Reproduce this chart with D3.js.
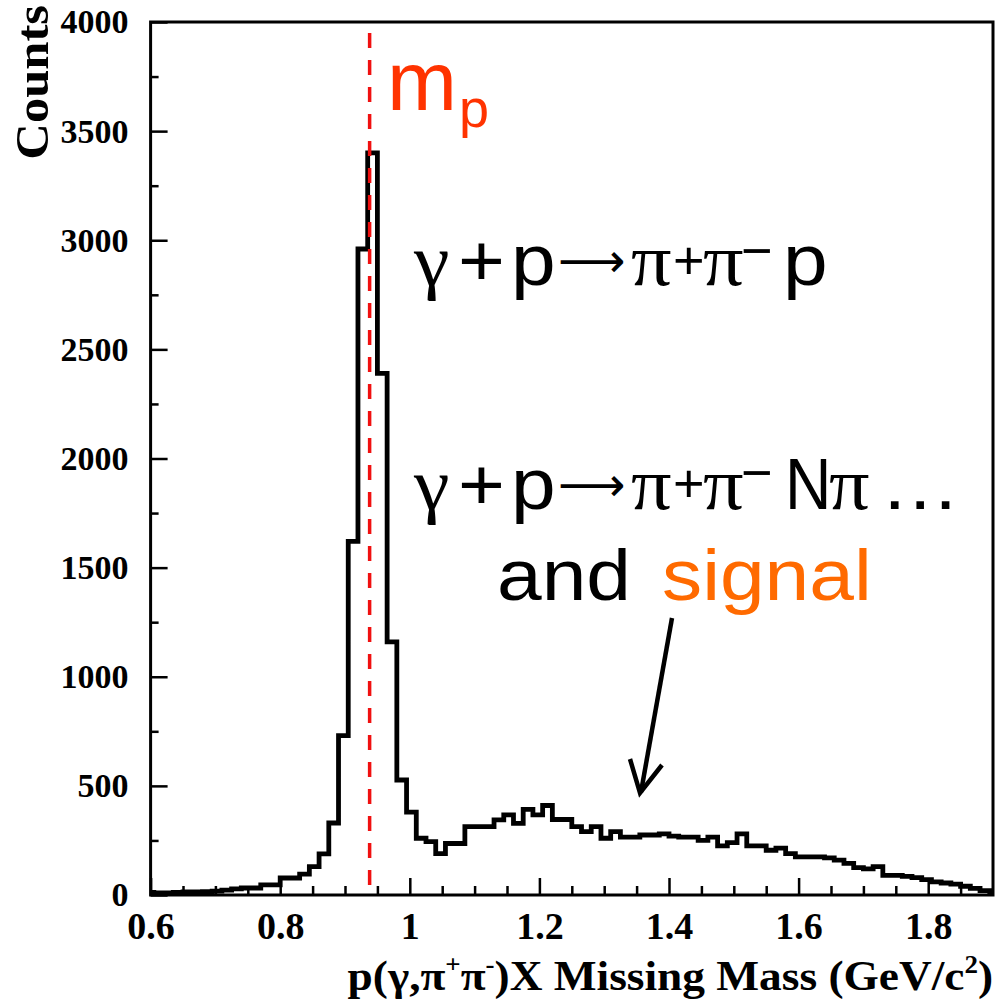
<!DOCTYPE html>
<html><head><meta charset="utf-8">
<script src="https://cdn.jsdelivr.net/npm/d3@7"></script>
<style>body{margin:0;background:#fff}svg{display:block}</style>
</head><body>
<svg id="chart" width="998" height="1001"></svg>
<script>
// ---------- data ----------
const binLow = 0.59;      // lower edge of first bin (GeV/c^2)
const binWidth = 0.015;   // bin width (GeV/c^2)
const counts = [
  12, 10, 10, 12, 14, 14, 15, 18, 22, 28, 32, 32,
  46, 46, 78, 78, 96, 130, 188, 330, 730, 1620, 2960, 3400,
  2390, 1160, 527, 380, 260, 245, 190, 236, 236, 313, 313, 313,
  344, 367, 328, 392, 367, 410, 346, 346, 313, 290, 313, 260,
  290, 265, 265, 275, 275, 280, 270, 265, 265, 250, 265, 225,
  240, 280, 225, 225, 205, 215, 190, 175, 175, 175, 170, 160,
  145, 125, 120, 130, 90, 90, 85, 80, 70, 60, 55, 50,
  40, 30, 20, 10
];
const xDomain = [0.6, 1.9];
const yDomain = [0, 4000];
const xMajorTicks = [0.6, 0.8, 1.0, 1.2, 1.4, 1.6, 1.8];
const xMinorTicks = [0.65,0.7,0.75,0.85,0.9,0.95,1.05,1.1,1.15,1.25,1.3,1.35,1.45,1.5,1.55,1.65,1.7,1.75,1.85];
const yMajorTicks = [0, 500, 1000, 1500, 2000, 2500, 3000, 3500, 4000];
const yMinorTicks = [250, 750, 1250, 1750, 2250, 2750, 3250, 3750];
const protonMass = 0.938;
const yTitle = "Counts";

// ---------- layout ----------
const svg = d3.select("#chart");
const L = 150.6, R = 993, T = 22, B = 895;
const x = d3.scaleLinear().domain(xDomain).range([L, R]);
const y = d3.scaleLinear().domain(yDomain).range([B, T]);
const serif = "'Liberation Serif','Times New Roman',serif";
const sans = "'Liberation Sans',Arial,sans-serif";

svg.append("defs").append("clipPath").attr("id","plotclip")
  .append("rect").attr("x",L).attr("y",T-5).attr("width",R-L).attr("height",B-T+5);

// histogram (step outline)
const pts = counts.map((c,i)=>[binLow + i*binWidth, c]);
pts.push([binLow + counts.length*binWidth, counts[counts.length-1]]);
const line = d3.line().x(d=>x(d[0])).y(d=>y(d[1])).curve(d3.curveStepAfter);
svg.append("path").attr("d", line(pts)).attr("clip-path","url(#plotclip)")
  .attr("fill","none").attr("stroke","#000").attr("stroke-width",4.8)
  .attr("stroke-linejoin","miter");

// proton mass dashed line
svg.append("line")
  .attr("x1", x(protonMass)).attr("x2", x(protonMass))
  .attr("y1", 33).attr("y2", B)
  .attr("stroke","#f01010").attr("stroke-width",3.5).attr("stroke-dasharray","15 12");

// frame
svg.append("rect").attr("x",L).attr("y",T).attr("width",R-L).attr("height",B-T)
  .attr("fill","none").attr("stroke","#000").attr("stroke-width",3);

// x axis
const gx = svg.append("g").attr("transform",`translate(0,${B})`);
gx.call(d3.axisBottom(x).tickValues(xMajorTicks).tickSizeInner(-17).tickSizeOuter(0)
  .tickPadding(17).tickFormat(d3.format("~g")));
const gxm = svg.append("g").attr("transform",`translate(0,${B})`);
gxm.call(d3.axisBottom(x).tickValues(xMinorTicks).tickSizeInner(-9).tickSizeOuter(0).tickFormat(""));
[gx,gxm].forEach(g=>{ g.select(".domain").remove(); g.selectAll(".tick line").attr("stroke","#000").attr("stroke-width",2.5); });
gx.selectAll(".tick text").attr("font-family",serif).attr("font-weight","bold")
  .attr("font-size",38).attr("fill","#000");

// y axis
const gy = svg.append("g").attr("transform",`translate(${L},0)`);
gy.call(d3.axisLeft(y).tickValues(yMajorTicks).tickSizeInner(-17).tickSizeOuter(0)
  .tickPadding(22).tickFormat(d3.format("d")));
const gym = svg.append("g").attr("transform",`translate(${L},0)`);
gym.call(d3.axisLeft(y).tickValues(yMinorTicks).tickSizeInner(-8).tickSizeOuter(0).tickFormat(""));
[gy,gym].forEach(g=>{ g.select(".domain").remove(); g.selectAll(".tick line").attr("stroke","#000").attr("stroke-width",2.5); });
gy.selectAll(".tick text").attr("font-family",serif).attr("font-weight","bold")
  .attr("font-size",34).attr("fill","#000");

// axis titles
const xtg = svg.append("g").attr("transform","translate(993,990) scale(1.08,1)");
const xt = xtg.append("text").attr("x",0).attr("y",0).attr("text-anchor","end")
  .attr("font-family",serif).attr("font-weight","bold").attr("font-size",42).attr("fill","#000");
xt.append("tspan").text("p(γ,π");
xt.append("tspan").attr("font-size",25).attr("dy",-17).text("+");
xt.append("tspan").attr("dy",17).text("π");
xt.append("tspan").attr("font-size",25).attr("dy",-17).text("-");
xt.append("tspan").attr("dy",17).text(")X Missing Mass (GeV/c");
xt.append("tspan").attr("font-size",25).attr("dy",-17).text("2");
xt.append("tspan").attr("dy",17).text(")");

svg.append("text").attr("transform","translate(48,5) rotate(-90) scale(1.1,1)")
  .attr("text-anchor","end").attr("font-family",serif).attr("font-weight","bold")
  .attr("font-size",46).attr("fill","#000").text(yTitle);

// rich text helper: each piece at absolute page x, with its own horizontal scale
function rich(y0, pieces){
  pieces.forEach(p=>{
    svg.append("text")
      .attr("transform",`translate(${p.x},${y0 + (p.dy||0)}) scale(${p.sx||1.1},1)`)
      .attr("font-family",p.f||sans)
      .attr("font-size",p.s).attr("fill",p.c||"#000").text(p.t);
  });
}
const S = 73;
function reaction(supP, supM){
  return [
    {x:414,t:"γ",f:serif,s:S},
    {x:458,t:"+",s:S},
    {x:511,t:"p",s:S},
    {x:558,t:"⟶",f:"'DejaVu Sans'",s:47,sx:1.0,dy:-8},
    {x:631,t:"π",f:serif,s:S},
    {x:673,t:"+",s:54,sx:1.0,dy:supP},
    {x:703,t:"π",f:serif,s:S},
    {x:741,t:"−",s:54,sx:1.0,dy:supM}
  ];
}
rich(285, reaction(-6,-16).concat([{x:783,t:"p",s:S}]));
rich(509, reaction(-7,-18).concat([
  {x:785,t:"N",s:S,sx:0.88},{x:829,t:"π",f:serif,s:S},{x:880,t:"…",s:S}]));
rich(600, [{x:497,t:"and",s:S},{x:662,t:"signal",s:S,c:"#ff6a00"}]);

// m_p label
const mp = svg.append("text").attr("x",387).attr("y",110).attr("font-family",sans)
  .attr("font-size",84).attr("fill","#ff3300");
mp.append("tspan").text("m");
mp.append("tspan").attr("font-size",54).attr("dy",17).attr("dx",2).text("p");

// arrow
svg.append("line").attr("x1",672).attr("y1",618).attr("x2",641).attr("y2",792)
  .attr("stroke","#000").attr("stroke-width",4.5);
svg.append("path").attr("d","M630,759 L640,793 L662,765").attr("fill","none")
  .attr("stroke","#000").attr("stroke-width",4.5).attr("stroke-linejoin","miter");
</script>
</body></html>
